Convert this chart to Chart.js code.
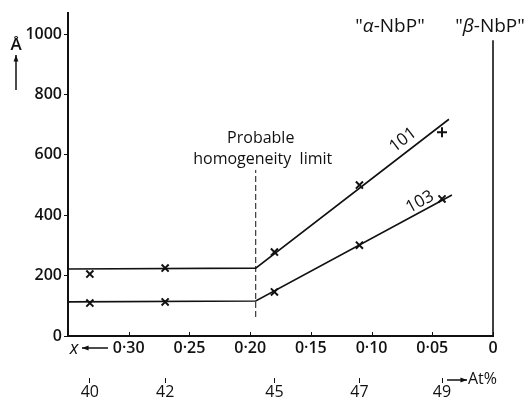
<!DOCTYPE html>
<html>
<head>
<meta charset="utf-8">
<script src="https://cdn.jsdelivr.net/npm/chart.js@4.4.1/dist/chart.umd.min.js"></script>
<style>
  html, body { margin: 0; padding: 0; background: #fff; }
  #wrap { width: 532px; height: 398px; }
</style>
</head>
<body>
<div id="wrap"><canvas id="chart"></canvas></div>
<script>
"use strict";

// composition x (NbP1-x)
const xTickVals = [0.30, 0.25, 0.20, 0.15, 0.10, 0.05, 0];
const xTickLabels = ["0·30", "0·25", "0·20", "0·15", "0·10", "0·05", "0"];
const yTickVals = [0, 200, 400, 600, 800, 1000];

// sample positions on the x scale and their At% labels
const samplePos = [0.332, 0.270, 0.180, 0.110, 0.042];
const atPct = ["40", "42", "45", "47", "49"];

// line widths (Å) of the two reflections
const width101 = [205, 225, 278, 500, 675];
const width103 = [109, 113, 146, 301, 454];
const style101 = ["crossRot", "crossRot", "crossRot", "crossRot", "cross"];

// drawn trend lines
const fit101X = [0.35, 0.1954, 0.0363];
const fit101Y = [222, 225, 718];
const fit103X = [0.35, 0.1954, 0.0338];
const fit103Y = [113, 116, 467];

// probable homogeneity limit and beta-phase boundary
const limitX = [0.1954, 0.1954];
const limitY = [63, 550];
const betaX = [0, 0];
const betaY = [0, 980];

const ink = "#111";
const fam = "'Open Sans', sans-serif";

const pts = (xs, ys) => xs.map((v, i) => ({ x: v, y: ys[i] }));

Chart.defaults.font.family = fam;
Chart.defaults.color = ink;

// textos sueltos del grafico
const notas = {
  id: "notas",
  afterDraw(chart) {
    const { ctx, scales } = chart;
    const x = scales.x, y = scales.y;
    ctx.save();
    ctx.fillStyle = ink;
    ctx.strokeStyle = ink;
    ctx.textBaseline = "middle";

    // tick marks pointing into the plot
    ctx.lineWidth = 1;
    xTickVals.forEach(v => {
      const px = Math.round(x.getPixelForValue(v)) + 0.5;
      ctx.beginPath();
      ctx.moveTo(px, y.bottom);
      ctx.lineTo(px, y.bottom - 4);
      ctx.stroke();
    });

    // Å with up arrow
    ctx.textAlign = "center";
    ctx.font = "600 17px " + fam;
    ctx.fillText("Å", 16, 45);
    arrow(ctx, 16, 90, 16, 55);

    // homogeneity limit text
    const xl = x.getPixelForValue(limitX[0]);
    ctx.font = "16px " + fam;
    ctx.fillText("Probable", xl + 5, 138);
    ctx.fillText("homogeneity  limit", xl + 7, 159);

    // phase names
    run(ctx, [["\"", ""], ["α", "italic "], ["-NbP\"", ""]], 390, 27, "19px ");
    run(ctx, [["\"", ""], ["β", "italic "], ["-NbP\"", ""]], 490, 27, "19px ");

    // reflection labels along the lines
    label(ctx, x, y, fit101X, fit101Y, "101", 403, 140);
    label(ctx, x, y, fit103X, fit103Y, "103", 420, 202);

    // x arrow on the left of the axis
    ctx.textAlign = "center";
    ctx.font = "italic 18px " + fam;
    ctx.fillText("x", 74, 349);
    arrow(ctx, 108, 348, 82, 348);

    // At% arrow
    arrow(ctx, 447, 380, 467, 380);
    ctx.textAlign = "left";
    ctx.font = "16px " + fam;
    ctx.fillText("At%", 468, 379);
    ctx.restore();
  }
};

function arrow(ctx, x0, y0, x1, y1) {
  const a = Math.atan2(y1 - y0, x1 - x0);
  ctx.lineWidth = 1.5;
  ctx.beginPath();
  ctx.moveTo(x0, y0);
  ctx.lineTo(x1, y1);
  ctx.stroke();
  ctx.beginPath();
  ctx.moveTo(x1, y1);
  ctx.lineTo(x1 - 7 * Math.cos(a - 0.35), y1 - 7 * Math.sin(a - 0.35));
  ctx.lineTo(x1 - 7 * Math.cos(a + 0.35), y1 - 7 * Math.sin(a + 0.35));
  ctx.closePath();
  ctx.fill();
}

function run(ctx, parts, cx, cy, size) {
  let total = 0;
  parts.forEach(p => { ctx.font = p[1] + size + fam; total += ctx.measureText(p[0]).width; });
  let px = cx - total / 2;
  ctx.textAlign = "left";
  parts.forEach(p => {
    ctx.font = p[1] + size + fam;
    ctx.fillText(p[0], px, cy);
    px += ctx.measureText(p[0]).width;
  });
}

function label(ctx, x, y, xs, ys, txt, cx, cy) {
  const n = xs.length;
  const dx = x.getPixelForValue(xs[n - 1]) - x.getPixelForValue(xs[n - 2]);
  const dy = y.getPixelForValue(ys[n - 1]) - y.getPixelForValue(ys[n - 2]);
  ctx.save();
  ctx.translate(cx, cy);
  ctx.rotate(Math.atan2(dy, dx));
  ctx.textAlign = "center";
  ctx.font = "17px " + fam;
  ctx.fillText(txt, 0, 0);
  ctx.restore();
}

const lineSet = (data, extra) => Object.assign({
  data: data,
  showLine: true,
  borderColor: ink,
  borderWidth: 1.6,
  pointRadius: 0,
  fill: false,
  clip: false
}, extra || {});

new Chart(document.getElementById("chart"), {
  type: "scatter",
  data: {
    datasets: [
      lineSet(pts(fit101X, fit101Y)),
      lineSet(pts(fit103X, fit103Y)),
      lineSet(pts(limitX, limitY), { borderWidth: 1, borderDash: [6, 3] }),
      lineSet(pts(betaX, betaY)),
      {
        data: pts(samplePos, width101),
        pointStyle: style101,
        pointRadius: 5,
        borderColor: ink,
        backgroundColor: ink,
        pointBorderWidth: 2,
        clip: false
      },
      {
        data: pts(samplePos, width103),
        pointStyle: "crossRot",
        pointRadius: 5,
        borderColor: ink,
        backgroundColor: ink,
        pointBorderWidth: 2,
        clip: false
      }
    ]
  },
  options: {
    responsive: true,
    maintainAspectRatio: false,
    animation: false,
    layout: { padding: { top: 13, right: 39, left: 0, bottom: 0 } },
    plugins: { legend: { display: false }, tooltip: { enabled: false } },
    scales: {
      x: {
        type: "linear",
        position: "bottom",
        min: 0,
        max: 0.35,
        reverse: true,
        afterBuildTicks: s => { s.ticks = xTickVals.map(v => ({ value: v })); },
        afterFit: s => { s.height = 42; },
        grid: { display: false, drawTicks: false },
        border: { color: ink, width: 2 },
        ticks: {
          autoSkip: false,
          maxRotation: 0,
          padding: 3,
          font: { size: 16, weight: "600" },
          callback: (v, i) => xTickLabels[i]
        }
      },
      x2: {
        type: "linear",
        position: "bottom",
        min: 0,
        max: 0.35,
        reverse: true,
        afterBuildTicks: s => { s.ticks = samplePos.map(v => ({ value: v })); },
        afterFit: s => { s.height = 20; },
        grid: { drawOnChartArea: false, drawTicks: true, tickLength: 5, color: ink, lineWidth: 1 },
        border: { display: false },
        ticks: {
          autoSkip: false,
          maxRotation: 0,
          padding: 0,
          font: { size: 16 },
          callback: (v, i) => atPct[i]
        }
      },
      y: {
        type: "linear",
        min: 0,
        max: 1070,
        afterBuildTicks: s => { s.ticks = yTickVals.map(v => ({ value: v })); },
        afterFit: s => { s.width = 68; },
        grid: { drawOnChartArea: false, drawTicks: true, tickLength: 4, color: ink, lineWidth: 1 },
        border: { color: ink, width: 2 },
        ticks: {
          padding: 2,
          font: { size: 16, weight: "600" },
          callback: v => String(v)
        }
      }
    }
  },
  plugins: [notas]
});
</script>
</body>
</html>
